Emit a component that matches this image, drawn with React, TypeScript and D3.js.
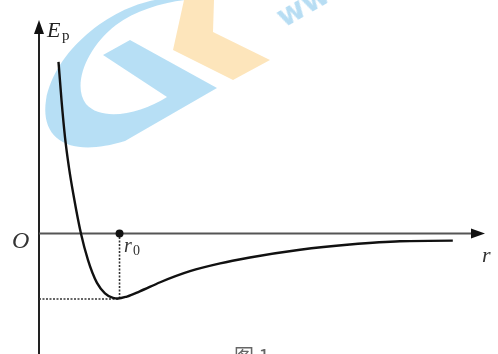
import React from "react";
import * as d3 from "d3";

const W = 498;
const H = 354;

// Potential energy curve Ep(r), arbitrary units (min at r0 with Ep = -1)
const rValues = [4.39, 5.07, 5.86, 6.76, 7.88, 9.45, 11.04, 13.06, 14.86, 16.67, 17.8, 19.8, 22.7, 27.3, 34, 40.8, 47.5, 58.8, 70, 81.3, 93.2];
const epValues = [2.64, 2.05, 1.48, 1.01, 0.55, 0, -0.41, -0.76, -0.92, -0.99, -1.0, -0.97, -0.89, -0.75, -0.58, -0.46, -0.37, -0.25, -0.17, -0.12, -0.11];
const r0 = 17.8;
const epMin = -1.0;

const axisLabels = { y: "E", ySub: "p", x: "r", origin: "O", r0: "r", r0Sub: "0" };
const caption = "图 1";

export default function App() {
  const x = d3.scaleLinear().domain([0, 100]).range([39, 483]);
  const y = d3.scaleLinear().domain([-1, 0]).range([298.5, 233.5]);

  const pts: [number, number][] = rValues.map((r, i) => [r, epValues[i]]);
  const line = d3
    .line<[number, number]>()
    .x((d) => x(d[0]))
    .y((d) => y(d[1]))
    .curve(d3.curveMonotoneX);

  const x0 = x(0);
  const y0 = y(0);
  const serif = "'Liberation Serif', 'DejaVu Serif', serif";

  return (
    <svg
      width={W}
      height={H}
      style={{ position: "fixed", left: 0, top: 0, background: "#fff" }}
    >
      {/* watermark */}
      <g opacity={0.95}>
        <path
          d="M155,0 C110,8 55,50 46,100 C40,140 70,158 125,141 L217,88 L130,40 L103,55 L167,97 C140,114 102,122 86,104 C72,86 86,48 116,25 C135,11 160,3 185,0 Z"
          fill="#b4def5"
        />
        <path d="M184,0 L214,0 L213,32 L270,60 L233,80 L173,50 Z" fill="#fde4b8" />
        <text
          x={284}
          y={28}
          transform="rotate(-30 284 28)"
          fontFamily="'DejaVu Sans', sans-serif"
          fontWeight="bold"
          fontSize={30}
          fill="#b4dcf3"
        >
          www
        </text>
      </g>

      {/* axes */}
      <line x1={x0} y1={H} x2={x0} y2={30} stroke="#222" strokeWidth={2} />
      <path d={`M${x0},20 L${x0 - 5},34 L${x0 + 5},34 Z`} fill="#111" />
      <line x1={x0} y1={y0} x2={475} y2={y0} stroke="#555" strokeWidth={2} />
      <path d={`M485,${y0} L471,${y0 - 5} L471,${y0 + 5} Z`} fill="#111" />

      {/* guide lines */}
      <line
        x1={x0}
        y1={y(epMin) + 0.5}
        x2={x(r0)}
        y2={y(epMin) + 0.5}
        stroke="#333"
        strokeWidth={1.6}
        strokeDasharray="2,1.5"
      />
      <line
        x1={x(r0) + 1.5}
        y1={y0}
        x2={x(r0) + 1.5}
        y2={y(epMin)}
        stroke="#333"
        strokeWidth={1.6}
        strokeDasharray="2,1.5"
      />

      {/* curve */}
      <path d={line(pts) || ""} fill="none" stroke="#111" strokeWidth={2.4} />

      <circle cx={x(r0) + 1.5} cy={y0} r={4} fill="#111" />

      {/* labels */}
      <text x={47} y={37} fontFamily={serif} fontStyle="italic" fontSize={22} fill="#222">
        {axisLabels.y}
      </text>
      <text x={62} y={40} fontFamily={serif} fontSize={15} fill="#222">
        {axisLabels.ySub}
      </text>
      <text x={12} y={248} fontFamily={serif} fontStyle="italic" fontSize={24} fill="#333">
        {axisLabels.origin}
      </text>
      <text x={482} y={262} fontFamily={serif} fontStyle="italic" fontSize={22} fill="#333">
        {axisLabels.x}
      </text>
      <text x={124} y={252} fontFamily={serif} fontStyle="italic" fontSize={20} fill="#333">
        {axisLabels.r0}
      </text>
      <text x={133} y={255} fontFamily={serif} fontSize={14} fill="#333">
        {axisLabels.r0Sub}
      </text>
      <text x={234} y={364} fontFamily="'Noto Sans CJK SC', sans-serif" fontSize={20} fill="#666">
        {caption}
      </text>
    </svg>
  );
}
